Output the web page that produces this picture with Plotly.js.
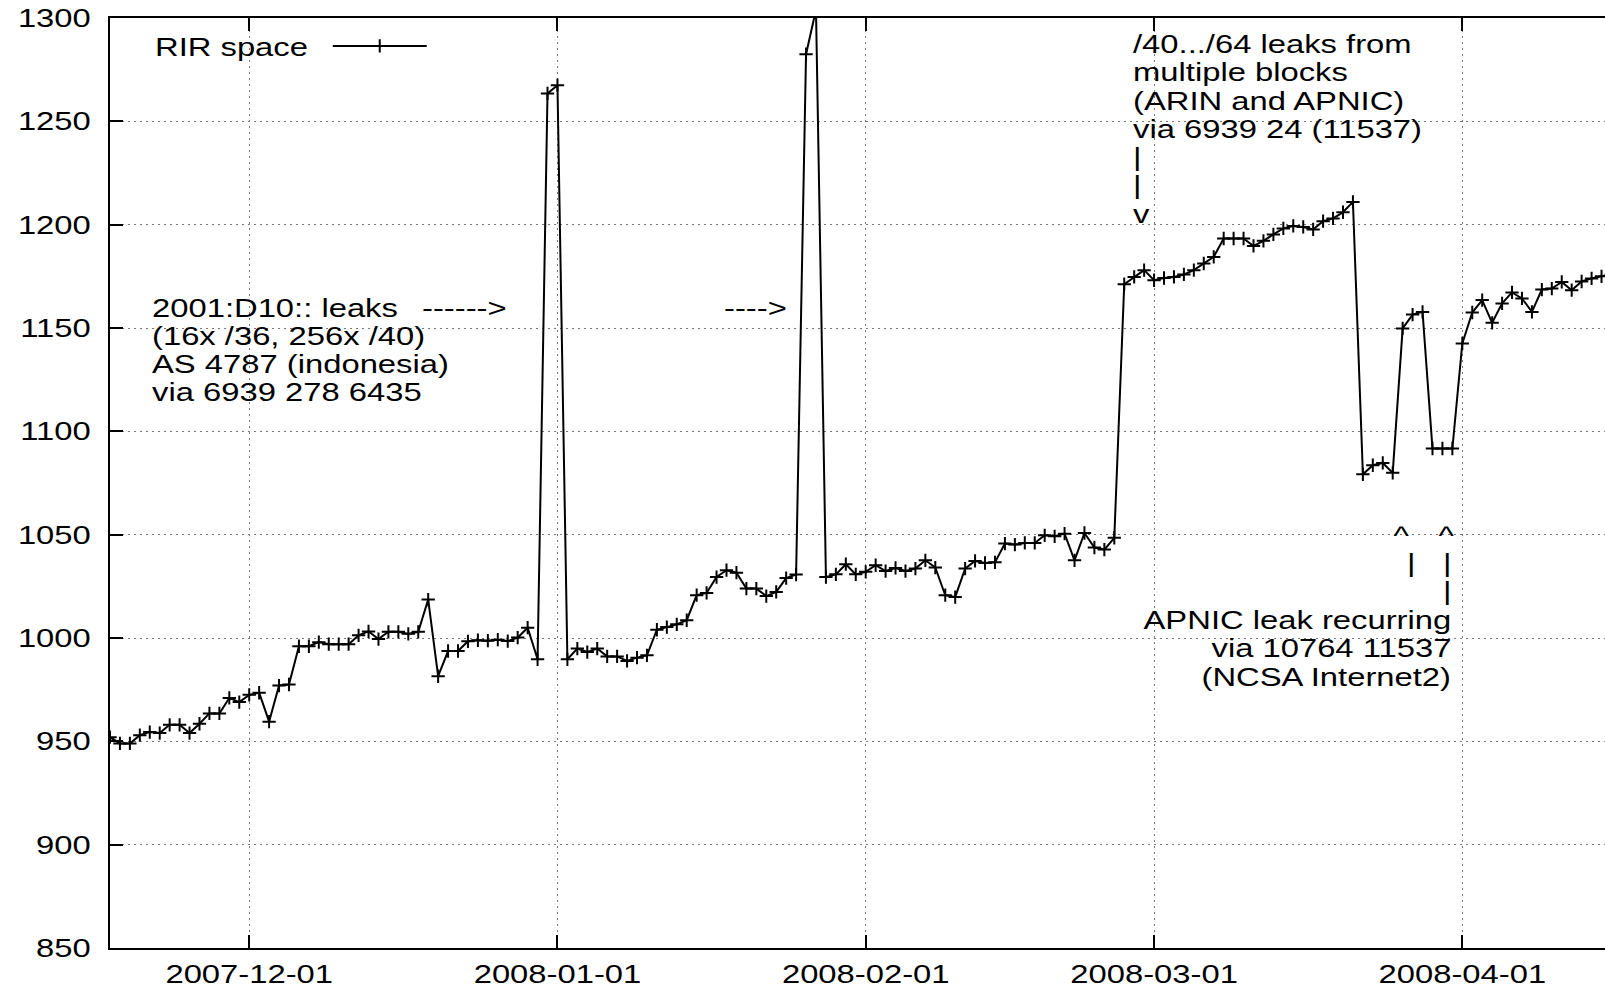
<!DOCTYPE html>
<html><head><meta charset="utf-8">
<script src="https://cdn.plot.ly/plotly-3.0.1.min.js"></script>
<style>html,body{margin:0;padding:0;background:#fff}#chart{width:1605px;height:992px}</style>
</head><body><div id="chart"></div>
<script>
// ---- data ----
const novDates = ['2007-11-17','2007-11-18','2007-11-19','2007-11-20','2007-11-21','2007-11-22','2007-11-23','2007-11-24','2007-11-25','2007-11-26','2007-11-27','2007-11-28','2007-11-29','2007-11-30'];
const novValues = [952, 949, 949, 953, 954.5, 954, 958, 958, 954, 958.5, 963.5, 963.5, 971, 969];
const decDates = ['2007-12-01','2007-12-02','2007-12-03','2007-12-04','2007-12-05','2007-12-06','2007-12-07','2007-12-08','2007-12-09','2007-12-10','2007-12-11','2007-12-12','2007-12-13','2007-12-14','2007-12-15','2007-12-16','2007-12-17','2007-12-18','2007-12-19','2007-12-20','2007-12-21','2007-12-22','2007-12-23','2007-12-24','2007-12-25','2007-12-26','2007-12-27','2007-12-28','2007-12-29','2007-12-30','2007-12-31'];
const decValues = [972.5, 973.5, 959.5, 977, 977.5, 996, 996, 998, 997, 997, 997, 1001.3, 1003.2, 999.5, 1003, 1003, 1002, 1003, 1018.6, 981.5, 993.7, 993.7, 998.4, 998.9, 998.7, 999.2, 998.5, 1000.2, 1005, 989.7, 1263.5];
const janDates = ['2008-01-01','2008-01-02','2008-01-03','2008-01-04','2008-01-05','2008-01-06','2008-01-07','2008-01-08','2008-01-09','2008-01-10','2008-01-11','2008-01-12','2008-01-13','2008-01-14','2008-01-15','2008-01-16','2008-01-17','2008-01-18','2008-01-19','2008-01-20','2008-01-21','2008-01-22','2008-01-23','2008-01-24','2008-01-25','2008-01-26','2008-01-27','2008-01-28','2008-01-29','2008-01-30','2008-01-31'];
const janValues = [1267.5, 989.7, 994.9, 993.2, 994.9, 991.1, 991.1, 988.9, 990.5, 991.6, 1004, 1005.3, 1006.6, 1008.6, 1020.7, 1021.8, 1029.5, 1032.8, 1031.6, 1023.9, 1023.9, 1020.3, 1022.3, 1029, 1030.7, 1282.5, 1304, 1029.5, 1030.8, 1035.7, 1030.8];
const febDates = ['2008-02-01','2008-02-02','2008-02-03','2008-02-04','2008-02-05','2008-02-06','2008-02-07','2008-02-08','2008-02-09','2008-02-10','2008-02-11','2008-02-12','2008-02-13','2008-02-14','2008-02-15','2008-02-16','2008-02-17','2008-02-18','2008-02-19','2008-02-20','2008-02-21','2008-02-22','2008-02-23','2008-02-24','2008-02-25','2008-02-26','2008-02-27','2008-02-28','2008-02-29'];
const febValues = [1032, 1035.2, 1032.4, 1033.9, 1032.4, 1033.6, 1037.6, 1034.1, 1020.7, 1019.8, 1033.6, 1037.3, 1036.3, 1036.6, 1045.7, 1045.2, 1046, 1046, 1049.7, 1049.2, 1050.5, 1037.6, 1050.8, 1043.8, 1042.8, 1048.5, 1171.2, 1174.7, 1178];
const marDates = ['2008-03-01','2008-03-02','2008-03-03','2008-03-04','2008-03-05','2008-03-06','2008-03-07','2008-03-08','2008-03-09','2008-03-10','2008-03-11','2008-03-12','2008-03-13','2008-03-14','2008-03-15','2008-03-16','2008-03-17','2008-03-18','2008-03-19','2008-03-20','2008-03-21','2008-03-22','2008-03-23','2008-03-24','2008-03-25','2008-03-26','2008-03-27','2008-03-28','2008-03-29','2008-03-30','2008-03-31'];
const marValues = [1173.1, 1174.2, 1174.7, 1175.9, 1178, 1181.2, 1184.4, 1193.3, 1193.3, 1193.3, 1189.7, 1192.2, 1195.3, 1198.2, 1199.4, 1198.9, 1197.7, 1201.7, 1203, 1206, 1211, 1079.2, 1083.6, 1084.7, 1079.9, 1149.8, 1156.5, 1157.8, 1091.7, 1091.7, 1091.7];
const aprDates = ['2008-04-01','2008-04-02','2008-04-03','2008-04-04','2008-04-05','2008-04-06','2008-04-07','2008-04-08','2008-04-09','2008-04-10','2008-04-11','2008-04-12','2008-04-13','2008-04-14','2008-04-15','2008-04-16'];
const aprValues = [1142.5, 1157.5, 1163.5, 1152.5, 1161.9, 1167.2, 1164.3, 1157.8, 1168.6, 1169.1, 1172.3, 1168.3, 1172.5, 1174, 1175, 1176];

const seriesName = 'RIR space';
const xRange = ['2007-11-17 00:00', '2008-04-15 08:24'];
const yRange = [850, 1300];
const yStep = 50;
const xTickFirst = '2007-12-01';

const note1Lines = ['2001:D10:: leaks', '(16x /36, 256x /40)', 'AS 4787 (indonesia)', 'via 6939 278 6435'];
const note2Lines = ['/40.../64 leaks from', 'multiple blocks', '(ARIN and APNIC)', 'via 6939 24 (11537)', '|', '|', 'v'];
const note3Lines = ['APNIC leak recurring', 'via 10764 11537', '(NCSA Internet2)'];

// ---- build ----
const dates = [].concat(novDates, decDates, janDates, febDates, marDates, aprDates);
const values = [].concat(novValues, decValues, janValues, febValues, marValues, aprValues);

const FONT = 'Liberation Sans, Arial, Helvetica, sans-serif';
const FS = 26;
const STRETCH = 1.26;
const W = 1605, H = 992;
const M = {l: 110, r: 0, t: 18, b: 44};
const PW = W - M.l - M.r, PH = H - M.t - M.b;
function px(X) { return (X - M.l) / PW; }
function py(Y) { return (H - M.b - Y) / PH; }
function note(text, X, Y, anchor) {
  return {xref: 'paper', yref: 'paper', x: px(X), y: py(Y), xanchor: anchor, yanchor: 'middle',
    align: anchor === 'center' ? 'center' : anchor, showarrow: false, text: text,
    font: {family: FONT, size: FS, color: '#000'}, borderpad: 0};
}

const annotations = [];
note1Lines.forEach((t, i) => annotations.push(note(t, 150.5, 308 + i * 28, 'left')));
annotations.push(note('------&gt;', 421, 308, 'left'));
annotations.push(note('----&gt;', 723, 308, 'left'));
note2Lines.forEach((t, i) => annotations.push(note(t, 1132, 44 + i * 28.3, 'left')));
annotations.push(note('^', 1401, 536, 'center'));
annotations.push(note('^', 1446, 536, 'center'));
annotations.push(note('|', 1411, 563, 'center'));
annotations.push(note('|', 1447, 563, 'center'));
annotations.push(note('|', 1447, 591, 'center'));
note3Lines.forEach((t, i) => annotations.push(note(t, 1452, 620 + i * 28.3, 'right')));

const trace = {
  type: 'scatter', mode: 'lines+markers', name: '', x: dates, y: values,
  line: {color: '#000', width: 2},
  marker: {symbol: 'cross-thin', size: 9.5, color: '#000', line: {color: '#000', width: 2}},
  cliponaxis: true, showlegend: true
};

const axisCommon = {
  ticks: 'inside', ticklen: 13, tickwidth: 2, tickcolor: '#000',
  showline: true, linewidth: 2, linecolor: '#000',
  showgrid: true, gridcolor: '#777', gridwidth: 1, griddash: '2px,4px',
  zeroline: false, tickfont: {family: FONT, size: FS, color: '#000'}
};

const layout = {
  width: W, height: H, margin: {l: M.l, r: M.r, t: M.t, b: M.b, pad: 0},
  paper_bgcolor: '#fff', plot_bgcolor: '#fff',
  font: {family: FONT, size: FS, color: '#000'},
  showlegend: true,
  legend: {x: px(153), y: py(46), xanchor: 'left', yanchor: 'middle', bgcolor: 'rgba(0,0,0,0)', borderwidth: 0,
    itemwidth: 94,
    title: {text: seriesName + '\u00a0'.repeat(6), side: 'left', font: {family: FONT, size: FS, color: '#000'}},
    font: {family: FONT, size: FS, color: '#000'}},
  xaxis: Object.assign({}, axisCommon, {type: 'date', range: xRange, tick0: xTickFirst, dtick: 'M1',
    tickformat: '%Y-%m-%d', mirror: 'ticks', ticklabelstandoff: 2}),
  yaxis: Object.assign({}, axisCommon, {range: yRange, tick0: yRange[0], dtick: yStep, mirror: false,
    ticklabelstandoff: 12}),
  annotations: annotations
};

function finish(gd) {
  gd.querySelectorAll('text').forEach(el => {
    if (!el.textContent.trim()) return;
    const w = el.getComputedTextLength();
    if (w > 0) {
      el.setAttribute('textLength', (w * STRETCH).toFixed(2));
      el.setAttribute('lengthAdjust', 'spacingAndGlyphs');
    }
  });
}

Plotly.newPlot('chart', [trace], layout, {staticPlot: true, displayModeBar: false}).then(finish);
</script></body></html>
